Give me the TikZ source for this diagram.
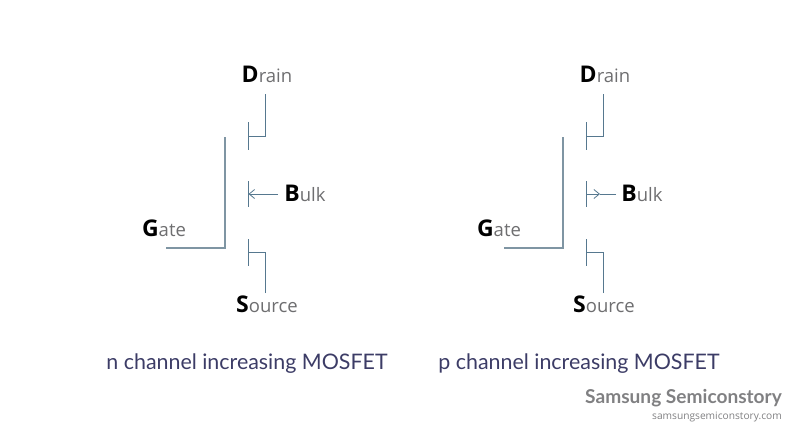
\documentclass[tikz,border=0pt]{standalone}
\usepackage{fontspec}
\setmainfont{Open Sans}
\newfontfamily\capfont{Lato}
\usetikzlibrary{arrows.meta,positioning}
\definecolor{wirecol}{HTML}{56788F}
\definecolor{gatecol}{HTML}{7F95A3}
\definecolor{labelcol}{HTML}{6E6E70}
\definecolor{capcol}{HTML}{3C3C66}
\definecolor{brandcol}{HTML}{808082}
\tikzset{
  wire/.style={draw=wirecol,line width=1pt},
  gatewire/.style={draw=gatecol,line width=1.1pt},
  pin/.style={font=\fontsize{18.5}{22}\selectfont,text=labelcol,inner sep=0pt},
  caption/.style={font=\capfont\fontsize{21.4}{25}\selectfont,text=capcol,inner sep=0pt},
}
\newcommand{\pinname}[2]{{\fontsize{23}{22}\selectfont\bfseries\color{black}#1}#2}
\begin{document}
\begin{tikzpicture}[x=1pt,y=-1pt,>={Straight Barb[length=5.5pt,width=9pt,line width=0.8pt]}]
  \useasboundingbox (0,0) rectangle (802,440);

  % n channel
  \node[pin] (D1) at (267,74.5)  {\pinname{D}{rain}};
  \node[pin] (B1) at (305,193.5) {\pinname{B}{ulk}};
  \node[pin] (G1) at (164,228.5) {\pinname{G}{ate}};
  \node[pin] (S1) at (267,304.5) {\pinname{S}{ource}};
  \coordinate (d1a) at (265,94);  \coordinate (d1b) at (265,136); \coordinate (d1c) at (248,136);
  \coordinate (s1a) at (265,293); \coordinate (s1b) at (265,252); \coordinate (s1c) at (248,252);
  \coordinate (g1a) at (166,248); \coordinate (g1b) at (225,248); \coordinate (g1c) at (225,137);
  \coordinate (t1a) at (248,122); \coordinate (t1b) at (248,150);
  \coordinate (m1a) at (248,181); \coordinate (m1b) at (248,207);
  \coordinate (b1a) at (278,194); \coordinate (b1b) at (248.5,194);
  \coordinate (u1a) at (248,239); \coordinate (u1b) at (248,266);

  \draw[wire] (d1a) -- (d1b) -- (d1c);
  \draw[wire] (s1a) -- (s1b) -- (s1c);
  \draw[gatewire] (g1a) -- (g1b) -- (g1c);
  \draw[wire] (t1a) -- (t1b);
  \draw[wire] (m1a) -- (m1b);
  \draw[wire] (u1a) -- (u1b);
  \draw[wire,->] (b1a) -- (b1b);

  % p channel
  \node[pin] (D2) at (605,74.5)  {\pinname{D}{rain}};
  \node[pin] (B2) at (642,193.5) {\pinname{B}{ulk}};
  \node[pin] (G2) at (499,228.5) {\pinname{G}{ate}};
  \node[pin] (S2) at (604,304.5) {\pinname{S}{ource}};
  \coordinate (d2a) at (603,94);  \coordinate (d2b) at (603,136); \coordinate (d2c) at (586,136);
  \coordinate (s2a) at (603,293); \coordinate (s2b) at (603,252); \coordinate (s2c) at (586,252);
  \coordinate (g2a) at (504,248); \coordinate (g2b) at (563,248); \coordinate (g2c) at (563,137);
  \coordinate (t2a) at (586,122); \coordinate (t2b) at (586,150);
  \coordinate (m2a) at (586,181); \coordinate (m2b) at (586,207);
  \coordinate (b2a) at (616,194); \coordinate (b2b) at (586,194); \coordinate (b2c) at (600,194);
  \coordinate (u2a) at (586,239); \coordinate (u2b) at (586,266);

  \draw[wire] (d2a) -- (d2b) -- (d2c);
  \draw[wire] (s2a) -- (s2b) -- (s2c);
  \draw[gatewire] (g2a) -- (g2b) -- (g2c);
  \draw[wire] (t2a) -- (t2b);
  \draw[wire] (m2a) -- (m2b);
  \draw[wire] (u2a) -- (u2b);
  \draw[wire] (b2a) -- (b2c);
  \draw[wire,->] (b2b) -- (b2c);

  % captions
  \node[caption] (C1) at (247,364) {n channel increasing MOSFET};
  \node[caption] (C2) at (579,364) {p channel increasing MOSFET};
  \node[inner sep=0pt,anchor=east,text=brandcol,font=\capfont\fontsize{19.1}{23}\selectfont\bfseries] (W1) at (782,398) {Samsung Semiconstory};
  \node[inner sep=0pt,below=4.5pt of W1.south east,anchor=north east,text=brandcol,font=\fontsize{10.2}{12}\selectfont] (W2) {samsungsemiconstory.com};
\end{tikzpicture}
\end{document}
